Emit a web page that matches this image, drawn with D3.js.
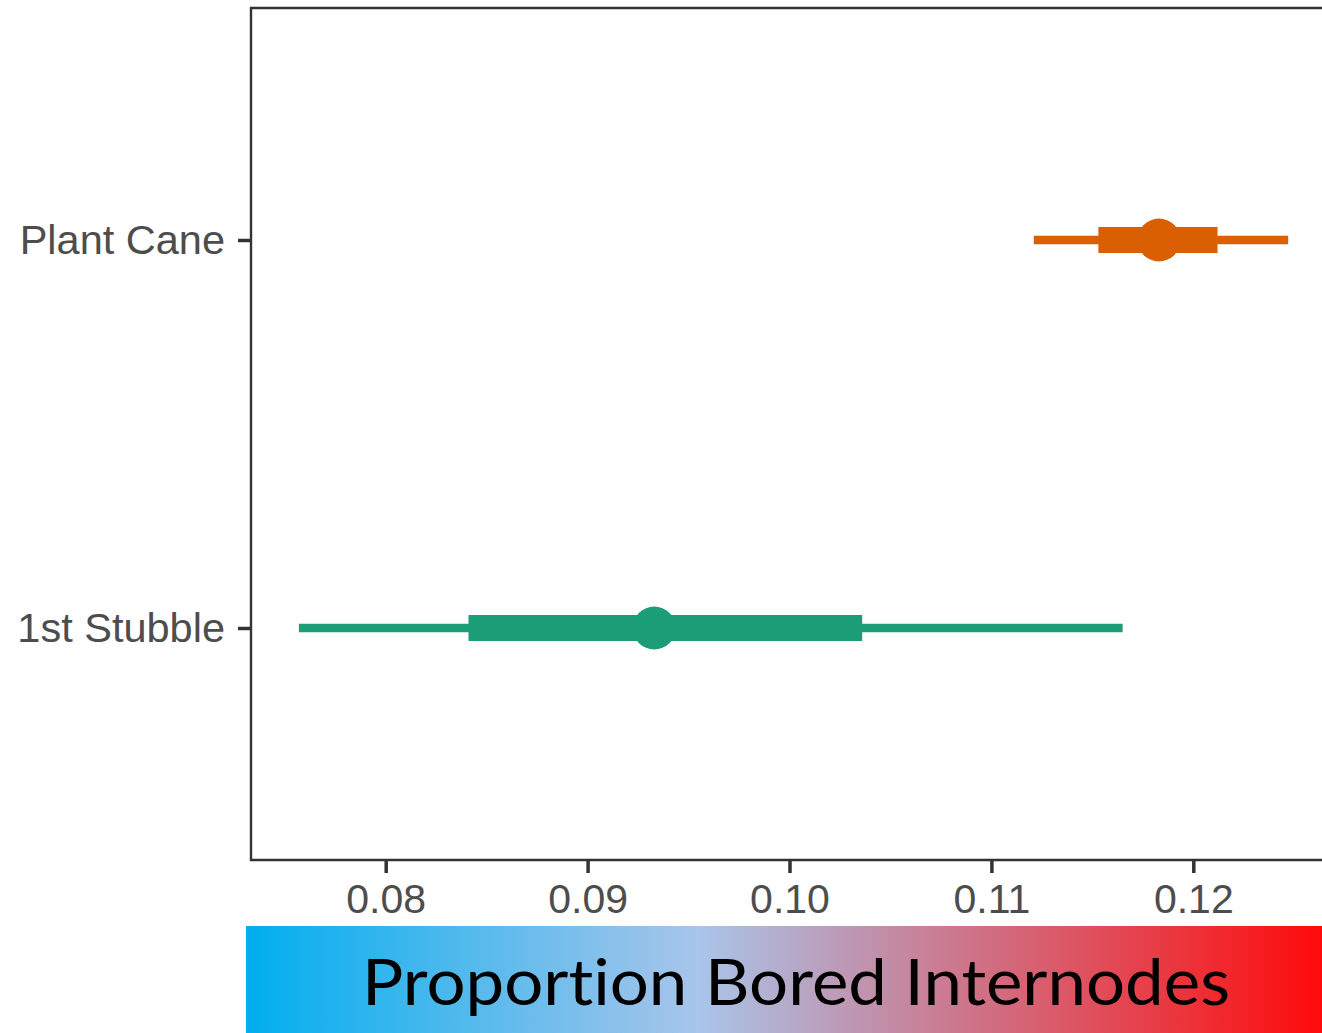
<!DOCTYPE html>
<html>
<head>
<meta charset="utf-8">
<script src="https://cdn.jsdelivr.net/npm/d3@7"></script>
<style>
  html, body { margin: 0; padding: 0; background: #fff; }
  svg { display: block; }
  text { font-variant-ligatures: none; }
</style>
</head>
<body>
<svg id="chart" width="1322" height="1033"></svg>
<script>
// Data
const categories = ['Plant Cane', '1st Stubble'];
const colors = ['#d95f02', '#1b9e77'];
const medians = [0.1183, 0.0933];
const innerLo = [0.1153, 0.0841];
const innerHi = [0.1212, 0.1036];
const outerLo = [0.1121, 0.0757];
const outerHi = [0.1247, 0.1165];
const xTicks = [0.08, 0.09, 0.10, 0.11, 0.12];
const xTickLabels = ['0.08', '0.09', '0.10', '0.11', '0.12'];
const axisTitle = 'Proportion Bored Internodes';

const rows = categories.map((c, i) => ({
  cat: c, color: colors[i], med: medians[i],
  ilo: innerLo[i], ihi: innerHi[i], olo: outerLo[i], ohi: outerHi[i]
}));

const svg = d3.select('#chart');
const W = 1322, H = 1033;

// Panel
const panel = { left: 251, top: 8, bottom: 860 };

const x = d3.scaleLinear().domain([0.08, 0.12]).range([385.7, 1193.3]);
const y = d3.scalePoint().domain(categories).range([240, 628]);

// Panel border (right side runs off the image)
svg.append('path')
  .attr('d', `M${W + 10},${panel.top} H${panel.left} V${panel.bottom} H${W + 10}`)
  .attr('fill', 'none').attr('stroke', '#333').attr('stroke-width', 2.4);

// X axis
const xAxis = svg.append('g')
  .attr('transform', `translate(0,${panel.bottom})`)
  .call(d3.axisBottom(x).tickValues(xTicks).tickFormat((d, i) => xTickLabels[i]).tickSize(13).tickPadding(11));
xAxis.select('.domain').remove();
xAxis.selectAll('.tick line').attr('stroke', '#333').attr('stroke-width', 3.5);
xAxis.selectAll('.tick text')
  .attr('fill', '#4d4d4d')
  .attr('font-family', 'Liberation Sans, Arial, sans-serif')
  .attr('font-size', 41);

// Y axis
const yAxis = svg.append('g')
  .attr('transform', `translate(${panel.left},0)`)
  .call(d3.axisLeft(y).tickSize(13).tickPadding(13));
yAxis.select('.domain').remove();
yAxis.selectAll('.tick line').attr('stroke', '#333').attr('stroke-width', 3.5);
yAxis.selectAll('.tick text')
  .attr('fill', '#4d4d4d')
  .attr('font-family', 'Liberation Sans, Arial, sans-serif')
  .attr('font-size', 41.5);

// Point intervals
const g = svg.append('g');
g.selectAll('line.outer').data(rows).join('line')
  .attr('class', 'outer')
  .attr('x1', d => x(d.olo)).attr('x2', d => x(d.ohi))
  .attr('y1', d => y(d.cat)).attr('y2', d => y(d.cat))
  .attr('stroke', d => d.color).attr('stroke-width', 8.5);

g.selectAll('line.inner').data(rows).join('line')
  .attr('class', 'inner')
  .attr('x1', d => x(d.ilo)).attr('x2', d => x(d.ihi))
  .attr('y1', d => y(d.cat)).attr('y2', d => y(d.cat))
  .attr('stroke', d => d.color).attr('stroke-width', 26);

g.selectAll('circle').data(rows).join('circle')
  .attr('cx', d => x(d.med)).attr('cy', d => y(d.cat))
  .attr('r', 21.5).attr('fill', d => d.color);

// Gradient title bar
const defs = svg.append('defs');
const grad = defs.append('linearGradient').attr('id', 'bar').attr('x1', '0%').attr('x2', '100%');
grad.append('stop').attr('offset', '0%').attr('stop-color', '#00aeef');
grad.append('stop').attr('offset', '42%').attr('stop-color', '#a9c5ea');
grad.append('stop').attr('offset', '100%').attr('stop-color', '#ff0a0a');

svg.append('rect')
  .attr('x', 246).attr('y', 926).attr('width', W - 246).attr('height', H - 926)
  .attr('fill', 'url(#bar)');

svg.append('text')
  .attr('x', 362).attr('y', 1005)
  .attr('font-family', 'Lato, "Open Sans", sans-serif')
  .attr('font-size', 63)
  .attr('fill', '#000')
  .attr('textLength', 868).attr('lengthAdjust', 'spacingAndGlyphs')
  .text(axisTitle);
</script>
</body>
</html>
